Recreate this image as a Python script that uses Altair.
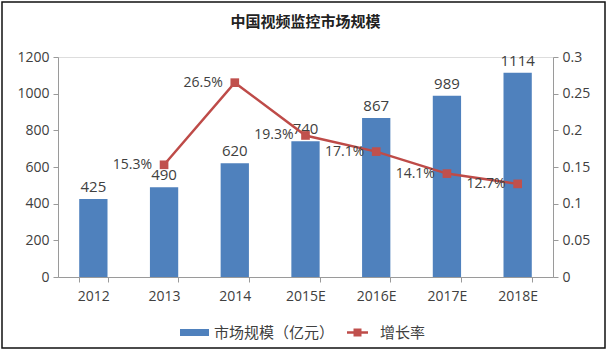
import altair as alt
import pandas as pd

years = ["2012", "2013", "2014", "2015E", "2016E", "2017E", "2018E"]
market = [425, 490, 620, 740, 867, 989, 1114]
growth = [None, 0.153, 0.265, 0.193, 0.171, 0.141, 0.127]
series = ["市场规模（亿元）", "增长率"]
left_ticks = [0, 200, 400, 600, 800, 1000, 1200]
right_ticks = [0, 0.05, 0.1, 0.15, 0.2, 0.25, 0.3]

df = pd.DataFrame({"year": years, "market": market, "growth": growth})
one = pd.DataFrame({"k": [0]})

NUM_FONT = "Open Sans"
CJK = "Noto Sans CJK SC"
TXT = "#404040"
AX = "#9a9a9a"
BLUE = "#4F81BD"
RED = "#BE4B48"
RED_PT = "#C0504D"

x = alt.X("year:N", sort=years,
          scale=alt.Scale(paddingInner=0.6, paddingOuter=0.3),
          axis=alt.Axis(title=None, labelAngle=0, tickBand="extent", tickSize=5,
                        labelPadding=7, labelFont=NUM_FONT, labelFontSize=14,
                        labelColor=TXT, domainColor=AX, tickColor=AX))

base = alt.Chart(df).encode(x=x)

y_left = alt.Y("market:Q", scale=alt.Scale(domain=[0, 1200], nice=False),
               axis=alt.Axis(title=None, values=left_ticks, format="d", grid=False,
                             labelOverlap=False, tickSize=5, labelPadding=4,
                             labelFont=NUM_FONT, labelFontSize=14, labelColor=TXT,
                             domainColor=AX, tickColor=AX))

bars = base.mark_bar(color=BLUE).encode(y=y_left)
bar_text = base.mark_text(dy=-12, font=NUM_FONT, fontSize=15, color=TXT).encode(
    y=y_left, text="market:Q")

y_right = alt.Y("growth:Q", scale=alt.Scale(domain=[0, 0.3], nice=False),
                axis=alt.Axis(title=None, orient="right", values=right_ticks,
                              format="~g", grid=False, labelOverlap=False,
                              tickSize=5, labelPadding=4,
                              labelFont=NUM_FONT, labelFontSize=14, labelColor=TXT,
                              domainColor=AX, tickColor=AX))

gbase = base.transform_filter("datum.growth != null")
line = gbase.mark_line(color=RED, strokeWidth=2.5).encode(y=y_right)
pts = gbase.mark_point(shape="square", filled=True, size=75, color=RED_PT,
                       opacity=1).encode(y=y_right)
pct = gbase.mark_text(align="right", baseline="middle", dx=-12, font=NUM_FONT,
                      fontSize=14, color=TXT).encode(
    y=y_right, text=alt.Text("growth:Q", format=".1%"))

# legend (decoration, drawn manually below the plot)
lg = alt.Chart(one)
leg_rect = lg.mark_rect(color=BLUE).encode(
    x=alt.value(122), x2=alt.value(151), y=alt.value(272), y2=alt.value(279))
leg_t1 = lg.mark_text(align="left", baseline="middle", font=CJK, fontSize=15,
                      color=TXT, text=series[0]).encode(x=alt.value(156), y=alt.value(275.5))
leg_rule = lg.mark_rule(color=RED, strokeWidth=2.5).encode(
    x=alt.value(289), x2=alt.value(310), y=alt.value(275.5))
leg_pt = lg.mark_point(shape="square", filled=True, size=64, color=RED_PT,
                       opacity=1).encode(x=alt.value(299.5), y=alt.value(275.5))
leg_t2 = lg.mark_text(align="left", baseline="middle", font=CJK, fontSize=15,
                      color=TXT, text=series[1]).encode(x=alt.value(322), y=alt.value(275.5))

frame = lg.mark_rect(fill=None, stroke="#111", strokeWidth=1.5).encode(
    x=alt.value(-56), x2=alt.value(547), y=alt.value(-55), y2=alt.value(291))

chart = alt.layer(
    alt.layer(bars, bar_text),
    alt.layer(line, pts, pct),
    leg_rect, leg_t1, leg_rule, leg_pt, leg_t2,
    frame,
).resolve_scale(y="independent").properties(
    width=495, height=220,
    title=alt.TitleParams("中国视频监控市场规模", font=CJK, fontSize=15,
                          fontWeight="bold", color="#222", anchor="middle", offset=-29),
    autosize=alt.AutoSizeParams(type="none"),
    padding={"left": 58, "top": 57, "right": 56, "bottom": 75},
).configure_view(stroke=None).configure(background="white")

chart.save("out.html", embed_options={"renderer": "svg", "actions": False})
